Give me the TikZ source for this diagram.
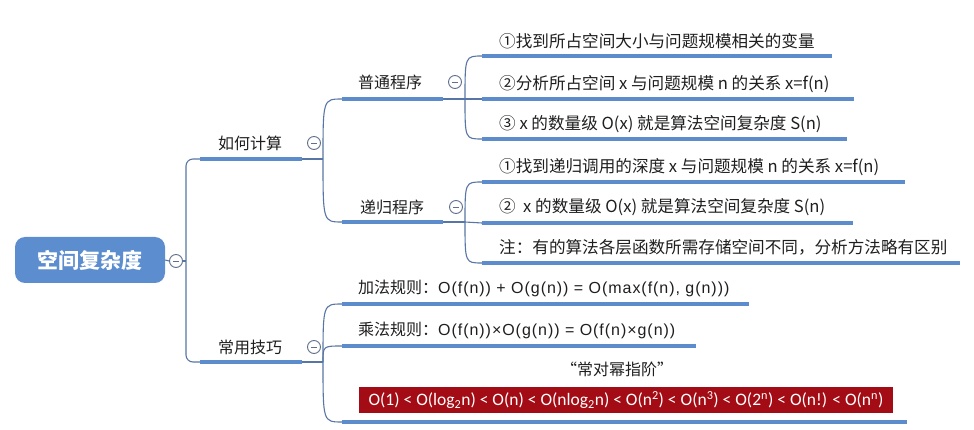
\documentclass[tikz,border=0pt]{standalone}
\usepackage{fontspec}
\setmainfont{Noto Sans CJK SC}
\newfontfamily\redfont{Carlito}
\newfontfamily\rulelat{Liberation Sans}[LetterSpace=6]
\usetikzlibrary{calc}
\definecolor{linec}{RGB}{92,140,204}
\definecolor{linkc}{RGB}{88,118,165}
\definecolor{rootc}{RGB}{92,141,207}
\definecolor{circc}{RGB}{96,112,140}
\definecolor{txtc}{RGB}{30,30,30}
\definecolor{redc}{RGB}{163,12,20}
\begin{document}
\begin{tikzpicture}[x=1pt,y=-1pt,
  link/.style={draw=linkc, line width=1.1pt},
  uline/.style={draw=linec, line width=3.6pt},
  lab/.style={text=txtc, inner sep=0pt, font=\fontsize{16}{18}\selectfont},
  leaf/.style={text=txtc, inner sep=0pt, anchor=west, font=\fontsize{16.6}{19}\selectfont},
  rule/.style={text=txtc, inner sep=0pt, anchor=west, font=\fontsize{16}{19}\selectfont},
  collapse/.style={circle, draw=circc, line width=0.9pt, fill=white, minimum size=13pt, inner sep=0pt,
    path picture={\draw[circc, line width=0.9pt] ($(path picture bounding box.center)+(-3.2,0)$) -- ($(path picture bounding box.center)+(3.2,0)$);}},
  rootbox/.style={rounded corners=10pt, fill=rootc, minimum width=150pt, minimum height=46pt, text=white, inner sep=0pt,
    font=\bfseries\fontsize{21}{24}\selectfont}
]
\useasboundingbox (0,0) rectangle (974,430);

% root
\node[rootbox] (root) at (90,260) {空间复杂度};
\node[collapse] (c0) at (176,261) {};
\coordinate (t0) at (186,261);
\draw[link] (root.east) -- (c0.west);
\draw[link] (c0.east) -- (t0);

% level 1 coordinates
\coordinate (a1s) at (200,159); \coordinate (a1e) at (302,159); \coordinate (a1b) at (323,159);
\coordinate (b1s) at (200,362); \coordinate (b1e) at (302,362); \coordinate (b1b) at (323,362);
\draw[link, rounded corners=7pt] (t0) |- (a1s);
\draw[link, rounded corners=7pt] (t0) |- (b1s);
\draw[uline] (a1s) -- (a1e);
\draw[uline] (b1s) -- (b1e);
\draw[link] (a1e) -- (a1b);
\draw[link] (b1e) -- (b1b);
\node[lab] (a1) at (250,143) {如何计算};
\node[collapse] (a1c) at (314,143) {};
\node[lab] (b1) at (250,347) {常用技巧};
\node[collapse] (b1c) at (314,347) {};

% level 2
\coordinate (p1s) at (342,99); \coordinate (p1e) at (443,99); \coordinate (p1b) at (465,99);
\coordinate (r1s) at (342,222); \coordinate (r1e) at (443,222); \coordinate (r1b) at (465,222);
\draw[link] (a1b) .. controls (a1b|-p1s) .. (p1s);
\draw[link] (a1b) .. controls (a1b|-r1s) .. (r1s);
\draw[uline] (p1s) -- (p1e);
\draw[uline] (r1s) -- (r1e);
\draw[link] (p1e) -- (p1b);
\draw[link] (r1e) -- (r1b);
\node[lab] (p1) at (390,82) {普通程序};
\node[collapse] (p1c) at (455,82) {};
\node[lab] (r1) at (392,207) {递归程序};
\node[collapse] (r1c) at (456,207) {};

% leaves of 普通程序
\coordinate (l1s) at (482,56);  \coordinate (l1e) at (832,56);
\coordinate (l2s) at (482,99);  \coordinate (l2e) at (854,99);
\coordinate (l3s) at (482,139); \coordinate (l3e) at (847,139);
\draw[link] (p1b) .. controls (p1b|-l1s) .. (l1s);
\draw[link] (p1b) -- (l2s);
\draw[link] (p1b) .. controls (p1b|-l3s) .. (l3s);
\draw[uline] (l1s) -- (l1e);
\draw[uline] (l2s) -- (l2e);
\draw[uline] (l3s) -- (l3e);
\node[leaf] (n1) at (499,41) {①找到所占空间大小与问题规模相关的变量};
\node[leaf] (n2) at (499,84) {②分析所占空间 x 与问题规模 n 的关系 x=f(n)};
\node[leaf] (n3) at (499,124) {③ x 的数量级 O(x) 就是算法空间复杂度 S(n)};

% leaves of 递归程序
\coordinate (m1s) at (482,182); \coordinate (m1e) at (905,182);
\coordinate (m2s) at (482,223); \coordinate (m2e) at (853,223);
\coordinate (m3s) at (482,263); \coordinate (m3e) at (960,263);
\draw[link] (r1b) .. controls (r1b|-m1s) .. (m1s);
\draw[link] (r1b) -- (m2s);
\draw[link] (r1b) .. controls (r1b|-m3s) .. (m3s);
\draw[uline] (m1s) -- (m1e);
\draw[uline] (m2s) -- (m2e);
\draw[uline] (m3s) -- (m3e);
\node[leaf] (q1) at (499,167) {①找到递归调用的深度 x 与问题规模 n 的关系 x=f(n)};
\node[leaf] (q2) at (499,207) {②\ \ x 的数量级 O(x) 就是算法空间复杂度 S(n)};
\node[leaf] (q3) at (499,247) {注：有的算法各层函数所需存储空间不同，分析方法略有区别};

% leaves of 常用技巧
\coordinate (k1s) at (342,304); \coordinate (k1e) at (749,304);
\coordinate (k2s) at (342,346); \coordinate (k2e) at (696,346);
\coordinate (k3s) at (342,422); \coordinate (k3e) at (907,422);
\draw[link] (b1b) .. controls (b1b|-k1s) .. (k1s);
\draw[link] (b1b) .. controls (b1b|-k2s) .. (k2s);
\draw[link] (b1b) .. controls (b1b|-k3s) .. (k3s);
\draw[uline] (k1s) -- (k1e);
\draw[uline] (k2s) -- (k2e);
\draw[uline] (k3s) -- (k3e);
\node[rule] (s1) at (358,288) {加法规则：{\rulelat O(f(n)) + O(g(n)) = O(max(f(n), g(n)))}};
\node[rule] (s2) at (358,330) {乘法规则：{\rulelat O(f(n))×O(g(n)) = O(f(n)×g(n))}};
\node[lab] (s3) at (617,369) {“常对幂指阶”};
\node[fill=redc, text=white, minimum width=534pt, minimum height=26pt, inner sep=0pt,
  font=\redfont\fontsize{17.5}{20}\selectfont] (s4) at (626,400)
  {O(1) < O(log\textsubscript{2}n) < O(n) < O(nlog\textsubscript{2}n) < O(n\textsuperscript{2}) < O(n\textsuperscript{3}) < O(2\textsuperscript{n}) < O(n!) < O(n\textsuperscript{n})};
\end{tikzpicture}
\end{document}
